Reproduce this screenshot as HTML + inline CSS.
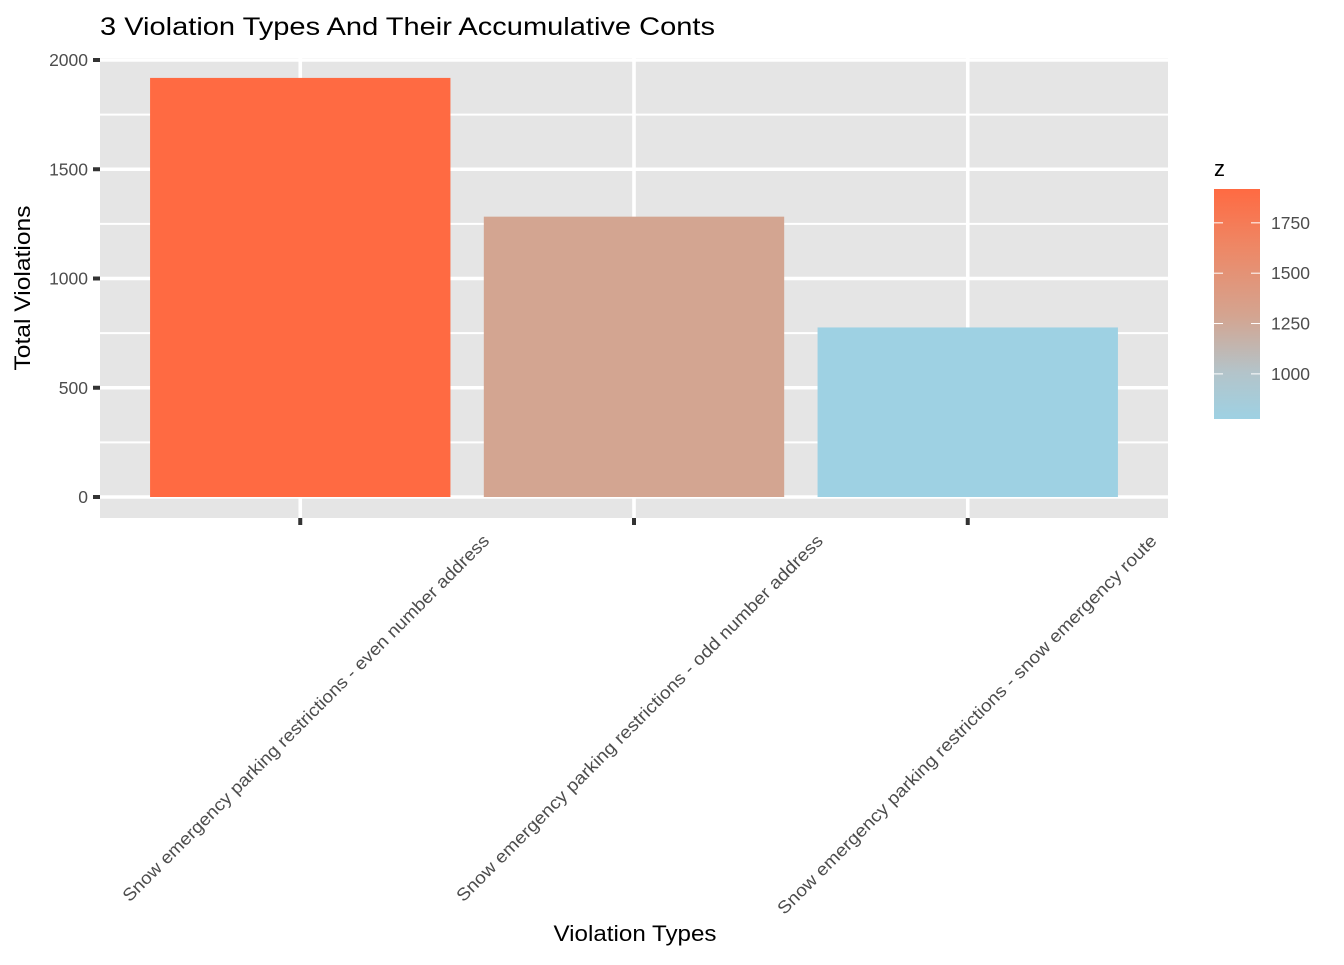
<!DOCTYPE html>
<html><head><meta charset="utf-8"><style>
body{margin:0;background:#fff;font-family:"Liberation Sans",Arial,sans-serif;}
</style></head><body>
<svg id="chart" width="1344" height="960" xmlns="http://www.w3.org/2000/svg" font-family="Liberation Sans, Arial, sans-serif">
<defs>
<linearGradient id="grad" x1="0" y1="1" x2="0" y2="0">
<stop offset="0" stop-color="#9ED1E3"/>
<stop offset="0.2" stop-color="#B3C4CA"/>
<stop offset="0.45" stop-color="#D4A490"/>
<stop offset="0.75" stop-color="#EE8765"/>
<stop offset="1" stop-color="#FF6A42"/>
</linearGradient>
</defs>
<text x="100" y="35" font-size="25" textLength="615" lengthAdjust="spacingAndGlyphs" fill="#000">3 Violation Types And Their Accumulative Conts</text>
<g id="panel"></g>
<text x="635" y="941" font-size="22" text-anchor="middle" textLength="163" lengthAdjust="spacingAndGlyphs" fill="#000">Violation Types</text>
<text transform="translate(30,288) rotate(-90)" font-size="22" text-anchor="middle" textLength="165" lengthAdjust="spacingAndGlyphs" fill="#000">Total Violations</text>
<g>
<text x="1214" y="176" font-size="22" fill="#000">z</text>
<rect x="1214" y="189" width="46" height="230" fill="url(#grad)"/>
<g id="legend-ticks"></g>
</g>
</svg>
<script>
const categories=["Snow emergency parking restrictions - even number address","Snow emergency parking restrictions - odd number address","Snow emergency parking restrictions - snow emergency route"];
const values=[1918,1283,776];
const yTicks=[0,500,1000,1500,2000];
const legendTicks=[1000,1250,1500,1750];
const ns="http://www.w3.org/2000/svg";
const P={l:100,r:1168,t:58,b:518};
const y0=497,y2000=60;
const ys=v=>y0-(y0-y2000)*v/2000;
const band=(P.r-P.l)/3.2;
const xc=i=>P.l+(0.6+i)*band;
const vmin=Math.min(...values),vmax=Math.max(...values);
function lerp(a,b,t){return a.map((x,i)=>Math.round(x+(b[i]-x)*t));}
const stops=[[0,[158,209,227]],[0.2,[179,196,202]],[0.45,[212,164,144]],[0.75,[238,135,101]],[1,[255,106,66]]];
function col(v){const t=(v-vmin)/(vmax-vmin);for(let i=1;i<stops.length;i++){if(t<=stops[i][0]){const a=stops[i-1],b=stops[i];const c=lerp(a[1],b[1],(t-a[0])/(b[0]-a[0]));return `rgb(${c})`;}}return 'rgb(255,106,66)';}
function mk(tag,attrs,parent){const e=document.createElementNS(ns,tag);for(const k in attrs)e.setAttribute(k,attrs[k]);parent.appendChild(e);return e;}
const g=document.getElementById('panel');
const bg=mk('rect',{x:P.l,y:P.t,width:P.r-P.l,height:P.b-P.t,fill:'#E5E5E5'},g);


for(let i=0;i<yTicks.length-1;i++){const v=(yTicks[i]+yTicks[i+1])/2;const l=mk('line',{x1:P.l,x2:P.r,y1:ys(v),y2:ys(v),stroke:'#fff','stroke-width':2},g);

}
const lm=mk('line',{x1:P.l,x2:P.r,y1:ys(-250),y2:ys(-250),stroke:'#fff','stroke-width':2},g);


yTicks.forEach(v=>{const l=mk('line',{x1:P.l,x2:P.r,y1:ys(v),y2:ys(v),stroke:'#fff','stroke-width':3.6},g);


const tk=mk('line',{x1:93,x2:100,y1:ys(v),y2:ys(v),stroke:'#333','stroke-width':4},g);


const t=mk('text',{x:88,y:ys(v)+6,'font-size':17.5,'text-anchor':'end',fill:'#4D4D4D'},g);t.textContent=v;

});
categories.forEach((c,i)=>{const l=mk('line',{x1:xc(i),x2:xc(i),y1:P.t,y2:P.b,stroke:'#fff','stroke-width':3.6},g);

});
const lens=[510,510,528];
categories.forEach((c,i)=>{const w=band*0.9;const r=mk('rect',{x:xc(i)-w/2,y:ys(values[i]),width:w,height:ys(0)-ys(values[i]),fill:col(values[i])},g);


const tk=mk('line',{x1:xc(i),x2:xc(i),y1:518,y2:525,stroke:'#333','stroke-width':4},g);


const t=mk('text',{transform:`translate(${xc(i)+190},542) rotate(-45)`,'font-size':17.5,'text-anchor':'end',textLength:lens[i],lengthAdjust:'spacingAndGlyphs',fill:'#4D4D4D'},g);t.textContent=c;

});
const lg=document.getElementById('legend-ticks');
const ly=v=>189+(vmax-v)/(vmax-vmin)*230;
legendTicks.forEach(v=>{[[1214,1223],[1251,1260]].forEach(p=>{const l=mk('line',{x1:p[0],x2:p[1],y1:ly(v),y2:ly(v),stroke:'#fff','stroke-width':1},lg);

});
const t=mk('text',{x:1271,y:ly(v)+6,'font-size':17.5,fill:'#4D4D4D'},lg);t.textContent=v;

});
</script>
</body></html>
